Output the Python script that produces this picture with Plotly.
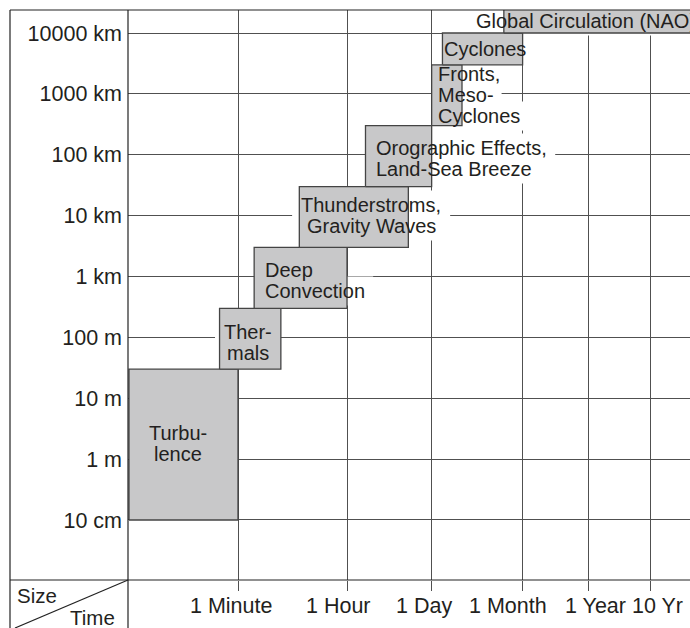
import numpy as np
import plotly.graph_objects as go

# ---------------- data ----------------
phenomena = ["Turbulence", "Thermals", "Deep Convection", "Thunderstorms",
             "Orographic", "Fronts", "Cyclones", "Global Circulation"]
t_start_s = [1, 30, 110, 600, 7200, 86400, 129600, 1.3e6]
t_end_s = [60, 300, 3600, 36000, 86400, 270000, 2.63e6, 1e10]
size_min_m = [0.1, 30, 300, 3000, 3e4, 3e5, 3e6, 1e7]
size_max_m = [30, 300, 3000, 3e4, 3e5, 3e6, 1e7, 4e7]

labels = ["Turbu-<br>lence", "Ther-<br>mals", "Deep<br>Convection",
          "Thunderstroms,<br>Gravity Waves", "Orographic Effects,<br>Land-Sea Breeze",
          "Fronts,<br>Meso-<br>Cyclones", "Cyclones", "Global Circulation (NAO)"]
label_t_s = [6.3, 87, 160, 8900, 10300, 105700, 132000, 440000]
label_size_m = [1.8, 81, 860, 1.0e4, 8.7e4, 9.6e5, 5.5e6, 1.57e7]
label_anchor = ["center", "center", "left", "center", "left", "left", "left", "left"]

y_tickvals = [0.1, 1, 10, 100, 1e3, 1e4, 1e5, 1e6, 1e7]
y_ticktext = ["10 cm", "1 m", "10 m", "100 m", "1 km", "10 km", "100 km", "1000 km", "10000 km"]
x_tickvals = [60, 3600, 86400, 2.63e6, 3.156e7, 3.156e8]
x_ticktext = ["1 Minute", "1 Hour", "1 Day", "1 Month", "1 Year", "10 Yr"]
x_label_shift_px = [-7.5, -8.5, -7.5, -14.5, 7, 7.5]

# ---------------- layout constants ----------------
W, H = 690, 628
ML, MR, MT, MB = 128, 0, 10, 48
PW, PH = W - ML - MR, H - MT - MB
XR = [-0.016, 9.15]
YR = [-1.986, 7.378]
FONT = "Liberation Sans, Arial, Helvetica, sans-serif"
TXT = "#231f20"
GRID = "#505050"
FRAME = "#222222"
BOX_FILL = "#c8c8c9"
BOX_LINE = "#444444"
LBL_SIZE = 20
AX_SIZE = 21.5
LS = 21  # line spacing of box labels (px)

fig = go.Figure()

# gray boxes
for name, t0, t1, s0, s1 in zip(phenomena, t_start_s, t_end_s, size_min_m, size_max_m):
    fig.add_trace(go.Scatter(
        x=[t0, t1, t1, t0, t0], y=[s0, s0, s1, s1, s0],
        mode="lines", fill="toself", fillcolor=BOX_FILL,
        line=dict(color=BOX_LINE, width=1.3),
        name=name, showlegend=False, hoverinfo="skip"))

# approximate text widths (Arial metrics) for white knock-out backgrounds
CW = {' ': 278, ',': 278, '-': 333, '(': 333, ')': 333, 'A': 667, 'B': 667, 'C': 722,
      'D': 722, 'E': 667, 'F': 611, 'G': 778, 'L': 556, 'M': 833, 'N': 722, 'O': 778,
      'S': 667, 'T': 611, 'W': 944, 'a': 556, 'b': 556, 'c': 500, 'd': 556, 'e': 556,
      'f': 278, 'g': 556, 'h': 556, 'i': 222, 'k': 500, 'l': 222, 'm': 833, 'n': 556,
      'o': 556, 'p': 556, 'r': 333, 's': 500, 't': 278, 'u': 556, 'v': 500, 'w': 722,
      'y': 500, 'z': 500, 'x': 500}


def text_w(s, size):
    return sum(CW.get(c, 556) for c in s) * size / 1000.0


xpx = PW / (XR[1] - XR[0])
ypx = PH / (YR[1] - YR[0])
shapes = []
annotations = []
for lab, lt, ls, anc in zip(labels, label_t_s, label_size_m, label_anchor):
    lines = lab.split("<br>")
    n = len(lines)
    lx, ly = np.log10(lt), np.log10(ls)
    padx, pady = 9, 4
    for i, line in enumerate(lines):
        ys = ((n - 1) / 2 - i) * LS
        w = text_w(line, LBL_SIZE)
        if anc == "left":
            x0, x1 = lx - 2 / xpx, lx + (w + padx) / xpx
        else:
            x0, x1 = lx - (w / 2 + padx) / xpx, lx + (w / 2 + padx) / xpx
        yc = ly + ys / ypx
        y0, y1 = yc - (LS / 2 + pady) / ypx, yc + (LS / 2 + pady) / ypx
        shapes.append(dict(type="rect", xref="x", yref="y", layer="between",
                           x0=10 ** x0, x1=10 ** x1, y0=10 ** y0, y1=10 ** y1,
                           fillcolor="white", line=dict(width=0)))
        annotations.append(dict(x=lx, y=ly, xref="x", yref="y", text=line, showarrow=False,
                                xanchor=anc, yanchor="middle", align=anc,
                                yshift=ys, borderpad=0,
                                font=dict(family=FONT, size=LBL_SIZE, color=TXT)))


def px(xp):
    return (xp - ML) / PW


def py(yp):
    return (H - MB - yp) / PH


# x tick labels (individually nudged as in the original)
for tv, tt, sh in zip(x_tickvals, x_ticktext, x_label_shift_px):
    annotations.append(dict(x=np.log10(tv), y=py(606), xref="x", yref="paper", text=tt,
                            showarrow=False, xanchor="center", yanchor="middle",
                            xshift=sh, borderpad=0,
                            font=dict(family=FONT, size=AX_SIZE, color=TXT)))

frame = dict(color=FRAME, width=1.2)
for (xa, ya, xb, yb) in [(10, 10, 10, 628), (128, 10, 128, 628), (10, 10, 690, 10),
                         (10, 580, 690, 580), (15, 628, 128, 580)]:
    shapes.append(dict(type="line", xref="paper", yref="paper", layer="above",
                       x0=px(xa), y0=py(ya), x1=px(xb), y1=py(yb), line=frame))

annotations.append(dict(x=px(16), y=py(595), xref="paper", yref="paper", text="Size",
                        showarrow=False, xanchor="left", yanchor="middle", borderpad=0,
                        font=dict(family=FONT, size=20.5, color=TXT)))
annotations.append(dict(x=px(69), y=py(617), xref="paper", yref="paper", text="Time",
                        showarrow=False, xanchor="left", yanchor="middle", borderpad=0,
                        font=dict(family=FONT, size=20.5, color=TXT)))

fig.update_layout(
    template="none",
    width=W, height=H, autosize=False,
    margin=dict(l=ML, r=MR, t=MT, b=MB, pad=0),
    paper_bgcolor="white", plot_bgcolor="white",
    font=dict(family=FONT, size=20, color=TXT),
    shapes=shapes, annotations=annotations, showlegend=False,
    xaxis=dict(type="log", range=XR, tickvals=x_tickvals, showticklabels=False,
               automargin=False,
               showgrid=True, gridcolor=GRID, gridwidth=1.1, zeroline=False,
               showline=False, ticks="outside", ticklen=10, tickwidth=1.1,
               tickcolor=GRID),
    yaxis=dict(type="log", range=YR, tickvals=y_tickvals, ticktext=y_ticktext,
               automargin=False,
               showgrid=True, gridcolor=GRID, gridwidth=1.1, zeroline=False,
               showline=False, ticks="", ticklabelstandoff=5,
               tickfont=dict(size=AX_SIZE, family=FONT, color=TXT)),
)

fig.write_html("out.html", config={"displayModeBar": False},
               post_script="document.body.style.margin='0';document.body.style.overflow='hidden';")
